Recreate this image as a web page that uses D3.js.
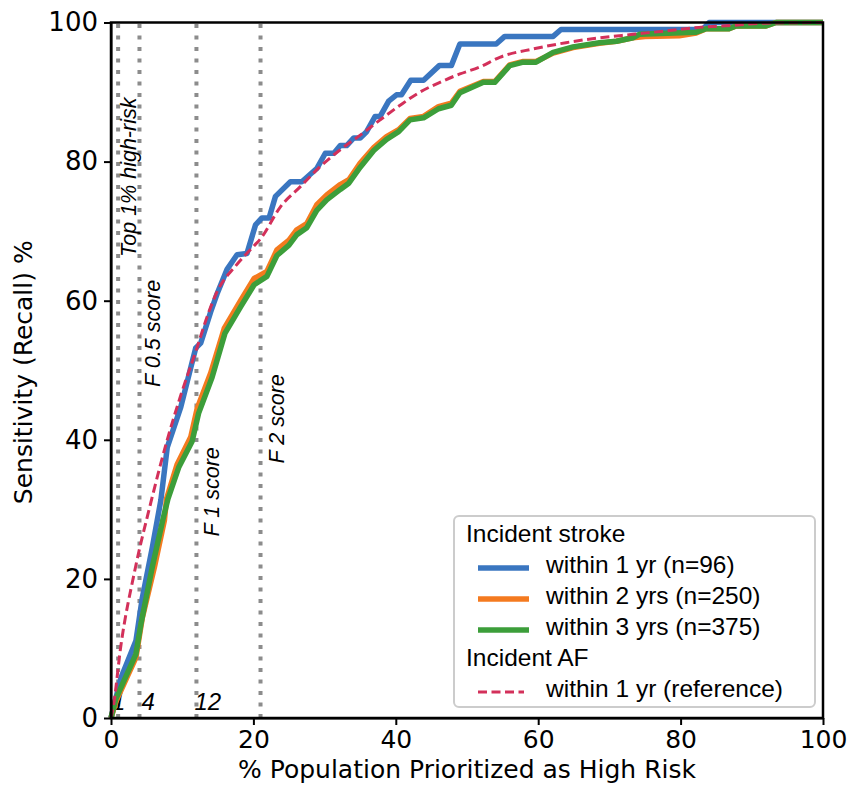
<!DOCTYPE html>
<html lang="en">
<head>
<meta charset="UTF-8">
<title>Sensitivity vs population prioritized</title>
<script src="https://cdn.jsdelivr.net/npm/d3@7/dist/d3.min.js"></script>
<style>
    body { margin: 0; background: #fff; }
    text { font-family: "DejaVu Sans", sans-serif; }
    .axis path, .axis line { stroke: #000; }
    .axis text { font-size: 25px; font-family: "DejaVu Sans", sans-serif; fill: #000; }
    .note { font-family: "Liberation Sans", Arial, sans-serif; font-style: italic; font-size: 21.5px; }
    .legend text { font-family: "Liberation Sans", Arial, sans-serif; font-size: 24.5px; }
</style>
</head>
<body>
<svg></svg>
<script>
    // stroke within 1 yr
    const x1yr = [0, 1.4, 3.5, 4.4, 5.8, 7.0, 7.9, 9.8, 11.9, 12.6, 14.0, 14.9, 16.3, 17.7, 19.1, 20.3, 21.2, 22.2, 23.1, 25.2, 26.8, 28.9, 30.1, 31.3, 32.2, 33.1, 34.1, 35.0, 35.9, 37.1, 37.8, 39.0, 40.1, 40.8, 42.1, 43.9, 46.1, 47.8, 49.0, 54.1, 55.3, 62.1, 63.2, 83.1, 84.0, 100]
    const y1yr = [0, 5.8, 11.1, 17.3, 24.5, 31.3, 38.9, 44.7, 53.2, 53.9, 58.4, 61.0, 64.5, 66.6, 66.8, 70.9, 71.9, 71.9, 75.0, 77.1, 77.1, 79.0, 81.2, 81.2, 82.3, 82.3, 83.4, 83.4, 84.3, 86.5, 86.5, 88.7, 89.6, 89.6, 91.7, 91.7, 93.8, 93.8, 96.9, 96.9, 98.0, 98.0, 99.0, 99.0, 100, 100]

    // stroke within 2 yrs
    const x2yr = [0, 0.7, 3.5, 4.4, 6.1, 7.5, 7.8, 9.3, 11.2, 12.1, 14.0, 15.9, 18.2, 20.1, 21.9, 23.3, 25.0, 26.1, 27.5, 28.9, 30.3, 32.2, 33.4, 35.0, 36.9, 38.7, 40.4, 42.0, 43.9, 46.0, 47.8, 49.0, 52.3, 53.9, 56.0, 57.9, 59.7, 62.1, 64.9, 68.6, 71.0, 73.3, 75.0, 79.8, 82.2, 83.6, 86.8, 87.8, 92.0, 93.4, 100]
    const y2yr = [0, 2.4, 8.7, 14.4, 21.7, 28.4, 31.5, 36.5, 40.4, 44.5, 49.6, 56.0, 60.0, 63.2, 64.2, 67.3, 68.7, 70.2, 71.1, 73.8, 75.2, 76.7, 77.4, 79.8, 82.0, 83.6, 84.6, 86.2, 86.5, 87.9, 88.4, 90.1, 91.5, 91.5, 93.9, 94.4, 94.4, 95.6, 96.4, 97.0, 97.3, 97.8, 98.0, 98.1, 98.5, 99.1, 99.1, 99.5, 99.5, 100, 100]

    // stroke within 3 yrs
    const x3yr = [0, 0.7, 3.5, 4.2, 5.8, 7.3, 8.0, 9.5, 11.4, 12.3, 14.2, 16.0, 18.2, 20.1, 21.9, 23.3, 25.0, 26.1, 27.5, 28.9, 30.3, 32.2, 33.4, 35.0, 36.9, 38.7, 40.4, 42.0, 43.9, 46.0, 47.8, 49.0, 52.3, 53.9, 56.0, 57.9, 59.7, 62.1, 64.9, 68.6, 71.0, 73.3, 74.2, 82.2, 83.6, 86.8, 87.8, 92.0, 93.4, 100]
    const y3yr = [0, 2.8, 9.2, 13.5, 21.7, 28.6, 31.5, 36.0, 39.8, 43.8, 49.0, 55.3, 59.1, 62.3, 63.5, 66.5, 68.0, 69.5, 70.5, 73.0, 74.5, 76.0, 76.9, 79.2, 81.6, 83.2, 84.3, 86.0, 86.3, 87.6, 88.1, 89.9, 91.4, 91.4, 93.8, 94.3, 94.3, 95.7, 96.5, 97.1, 97.3, 97.8, 98.3, 98.6, 99.1, 99.1, 99.5, 99.5, 100, 100]

    // incident AF within 1 yr (reference)
    const xAF = [0, 0.3, 1.4, 3.3, 5.6, 7.9, 9.8, 12.1, 13.5, 14.9, 17.5, 20.0, 21.0, 23.8, 26.6, 29.4, 32.2, 35.0, 37.8, 40.6, 43.4, 46.2, 49.0, 51.8, 54.6, 59.3, 63.9, 68.6, 73.3, 78.0, 82.6, 87.3, 91.9, 100]
    const yAF = [0, 1.5, 10.5, 21.0, 31.0, 40.0, 46.4, 53.3, 57.7, 61.3, 65.0, 67.8, 68.9, 73.5, 76.4, 79.3, 81.7, 83.8, 86.0, 88.1, 90.0, 91.4, 92.6, 93.6, 95.0, 96.2, 97.1, 97.8, 98.3, 98.8, 99.3, 99.6, 99.9, 100]

    const seriesNames = ['within 1 yr (n=96)', 'within 2 yrs (n=250)', 'within 3 yrs (n=375)', 'within 1 yr (reference)']
    const colors = ['#3a76c0', '#f47a1f', '#3c9e3a', '#d3305a']

    const cutoffs = [1, 4, 12, 21]
    const cutoffNotes = ['Top 1% high-risk', 'F 0.5 score', 'F 1 score', 'F 2 score']
    const cutoffNoteY = [66.3, 47.6, 26.1, 36.6]
    const cutoffTags = ['1', '4', '12']

    const xTicks = [0, 20, 40, 60, 80, 100]
    const yTicks = [0, 20, 40, 60, 80, 100]

    const W = 851, H = 786
    const pLeft = 111, pRight = 823, pTop = 22.5, pBottom = 718

    const svg = d3.select('svg').attr('width', W).attr('height', H)

    const x = d3.scaleLinear().domain([0, 100]).range([pLeft, pRight])
    const y = d3.scaleLinear().domain([0, 100]).range([pBottom, pTop])

    // cut-off lines
    svg.selectAll('line.cut')
        .data(cutoffs)
        .enter()
        .append('line')
        .attr('class', 'cut')
        .attr('x1', d => x(d)).attr('x2', d => x(d))
        .attr('y1', y(0)).attr('y2', y(100))
        .attr('stroke', '#8c8c8c')
        .attr('stroke-width', 4)
        .attr('stroke-dasharray', '4 7.5')

    const noteDx = [18, 21, 23, 23]
    svg.selectAll('text.note-v')
        .data(cutoffs)
        .enter()
        .append('text')
        .attr('class', 'note note-v')
        .attr('transform', (d, i) => `translate(${x(d) + noteDx[i]},${y(cutoffNoteY[i])}) rotate(-90)`)
        .text((d, i) => cutoffNotes[i])

    const tagDx = [-6, 2, -2]
    svg.selectAll('text.tag')
        .data(cutoffTags)
        .enter()
        .append('text')
        .attr('class', 'note tag')
        .style('font-size', '24px')
        .attr('x', (d, i) => x(cutoffs[i]) + tagDx[i])
        .attr('y', y(1.2))
        .text(d => d)

    // curves
    const line = d3.line().x(d => x(d[0])).y(d => y(d[1]))
    const curves = [
        d3.zip(x1yr, y1yr),
        d3.zip(x2yr, y2yr),
        d3.zip(x3yr, y3yr)
    ]
    curves.forEach((c, i) => {
        svg.append('path')
            .datum(c)
            .attr('d', line)
            .attr('fill', 'none')
            .attr('stroke', colors[i])
            .attr('stroke-width', 5.5)
            .attr('stroke-linejoin', 'round')
    })

    svg.append('path')
        .datum(d3.zip(xAF, yAF))
        .attr('d', line.curve(d3.curveMonotoneX))
        .attr('fill', 'none')
        .attr('stroke', colors[3])
        .attr('stroke-width', 3)
        .attr('stroke-dasharray', '9 4.5')

    // axes
    svg.append('g')
        .attr('class', 'axis')
        .attr('transform', `translate(0,${pBottom})`)
        .call(d3.axisBottom(x).tickValues(xTicks).tickSize(7).tickPadding(5).tickSizeOuter(0))
        .call(g => g.selectAll('path, line').attr('stroke-width', 2))

    svg.append('g')
        .attr('class', 'axis')
        .attr('transform', `translate(${pLeft},0)`)
        .call(d3.axisLeft(y).tickValues(yTicks).tickSize(7).tickPadding(6).tickSizeOuter(0))
        .call(g => g.selectAll('path, line').attr('stroke-width', 2))
        .call(g => g.selectAll('text').style('font-size', '26px'))

    svg.append('rect')
        .attr('x', pLeft).attr('y', pTop)
        .attr('width', pRight - pLeft).attr('height', pBottom - pTop)
        .attr('fill', 'none')
        .attr('stroke', '#000')
        .attr('stroke-width', 2.5)

    svg.append('text')
        .attr('x', (pLeft + pRight) / 2)
        .attr('y', 778)
        .attr('text-anchor', 'middle')
        .style('font-size', '25px')
        .text('% Population Prioritized as High Risk')

    svg.append('text')
        .attr('transform', `translate(32,${(pTop + pBottom) / 2 + 2}) rotate(-90)`)
        .attr('text-anchor', 'middle')
        .style('font-size', '25px')
        .text('Sensitivity (Recall) %')

    // legend
    const lg = svg.append('g').attr('class', 'legend')
    lg.append('rect')
        .attr('x', 454).attr('y', 516)
        .attr('width', 361).attr('height', 191)
        .attr('rx', 5)
        .attr('fill', '#fff').attr('fill-opacity', 0.85)
        .attr('stroke', '#cccccc').attr('stroke-width', 2)

    const rowY = i => 542 + 31 * i
    lg.append('text').attr('x', 466).attr('y', rowY(0)).text('Incident stroke')
    lg.append('text').attr('x', 466).attr('y', rowY(4)).text('Incident AF')

    const legendRows = [1, 2, 3, 5]
    legendRows.forEach((r, i) => {
        lg.append('line')
            .attr('x1', 478).attr('x2', i === 3 ? 524 : 529)
            .attr('y1', rowY(r) - 5).attr('y2', rowY(r) - 5)
            .attr('stroke', colors[i])
            .attr('stroke-width', i === 3 ? 3 : 5.5)
            .attr('stroke-dasharray', i === 3 ? '9 4.5' : null)
        lg.append('text')
            .attr('x', 546).attr('y', rowY(r))
            .text(seriesNames[i])
    })
</script>
</body>
</html>
